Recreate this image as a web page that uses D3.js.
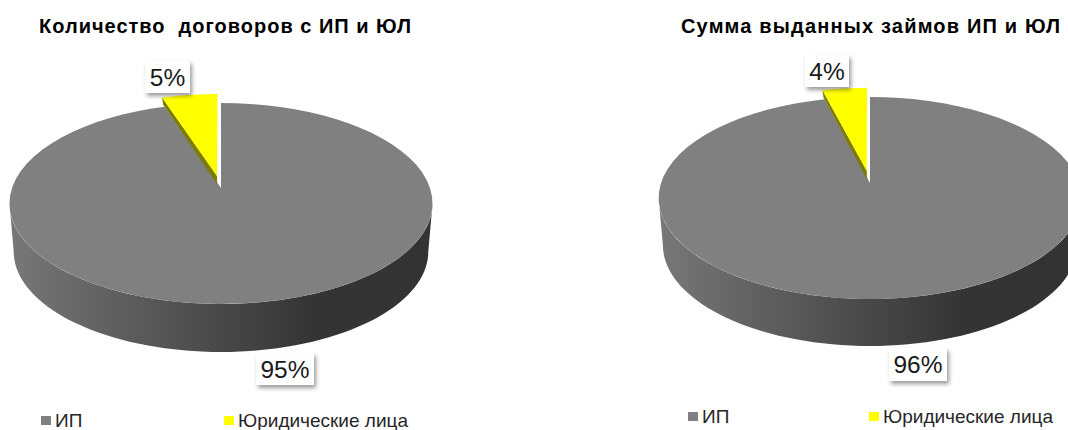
<!DOCTYPE html>
<html lang="ru">
<head>
<meta charset="utf-8">
<title>Договоры и займы ИП и ЮЛ</title>
<script src="https://cdn.jsdelivr.net/npm/d3@7/dist/d3.min.js"></script>
<style>
  html, body { margin: 0; padding: 0; background: #fff; }
  svg { display: block; font-family: "Liberation Sans", Arial, sans-serif; }
</style>
</head>
<body>
<svg id="chart" width="1068" height="430"></svg>
<script>
// Chart data
const categories = ["ИП", "Юридические лица"];
const contractShares = [95, 5];
const loanShares = [96, 4];
const chartTitles = ["Количество  договоров с ИП и ЮЛ", "Сумма выданных займов ИП и ЮЛ"];
const sliceColors = ["#808080", "#ffff00"];

// Layout of the two pies: apex of the top face, vertical reach and wall depth
const panels = [
  { values: contractShares, title: chartTitles[0], titleX: 39, titleLen: 372,
    cx: 221, apexY: 188, up: 85, down: 116, depth: 48,
    boxes: [{ x: 256, y: 353, w: 58, h: 32 }, { x: 145, y: 61, w: 45, h: 32 }],
    legendY: 416, legendX: [41, 224] },
  { values: loanShares, title: chartTitles[1], titleX: 681, titleLen: 379,
    cx: 870, apexY: 183, up: 86, down: 116, depth: 47,
    boxes: [{ x: 889, y: 348, w: 58, h: 33 }, { x: 805, y: 55, w: 44, h: 32 }],
    legendY: 412, legendX: [688, 869] }
];

const RADIUS = 209;
const EXPLODE = 0.125;
const svg = d3.select("#chart");
const defs = svg.append("defs");

// Side wall shading runs from mid grey on the left to charcoal on the right
const wallGrad = defs.append("linearGradient").attr("id", "wall");
[[0, "#787878"], [0.22, "#626262"], [0.5, "#484848"], [0.72, "#343434"], [1, "#333333"]]
  .forEach(([o, c]) => wallGrad.append("stop").attr("offset", o).attr("stop-color", c));

defs.append("filter").attr("id", "boxShadow")
  .attr("x", "-20%").attr("y", "-20%").attr("width", "150%").attr("height", "160%")
  .append("feDropShadow")
  .attr("dx", 2).attr("dy", 3).attr("stdDeviation", 2)
  .attr("flood-color", "#000").attr("flood-opacity", 0.4);

const pieLayout = d3.pie().sort(null).startAngle(0).endAngle(2 * Math.PI);
const linePath = d3.line();

panels.forEach(p => {
  const g = svg.append("g");

  // Perspective projection of the unit disc onto the page
  const k = (p.down - p.up) / (p.down + p.up);
  const h = p.up * (1 + k);
  const project = (u, v, scale = 1, dy = 0) => {
    const w = 1 / (1 + k * v);
    return [p.cx + RADIUS * scale * u * w, p.apexY - h * v * w + dy];
  };
  const arcPoints = (a0, a1, ox = 0, oy = 0, scale = 1, dy = 0) =>
    d3.range(0, 73).map(i => {
      const a = a0 + (a1 - a0) * i / 72;
      return project(Math.sin(a) + ox, Math.cos(a) + oy, scale, dy);
    });

  const slices = pieLayout(p.values);
  const [main, minor] = slices;

  // Wall: the near half of the top rim joined to the near half of the lower rim
  const nearStart = Math.PI * 0.5 + Math.asin(k);
  const nearEnd = Math.PI * 1.5 - Math.asin(k);
  const upperRim = arcPoints(nearStart, nearEnd);
  const lowerRim = arcPoints(nearEnd, nearStart, 0, 0, 0.98, p.depth);
  g.append("path")
    .attr("d", linePath(upperRim.concat(lowerRim)) + "Z")
    .attr("fill", "url(#wall)");

  // Large slice on the top face
  const apex = project(0, 0);
  g.append("path")
    .datum(main)
    .attr("d", d => linePath([apex, ...arcPoints(d.startAngle, d.endAngle)]) + "Z")
    .attr("fill", sliceColors[0]);

  // Pulled-out small slice: visible side edge first, then its top face
  const mid = (minor.startAngle + minor.endAngle) / 2;
  const ox = Math.sin(mid) * EXPLODE;
  const oy = Math.cos(mid) * EXPLODE;
  const facePts = [
    project(ox, oy),
    ...arcPoints(minor.startAngle, minor.endAngle, ox, oy)
  ];
  const edgeFirst = facePts[1];
  const shifted = [facePts[0], edgeFirst, [edgeFirst[0] + 1, edgeFirst[1] + 7], [facePts[0][0], facePts[0][1] + 8]];
  g.append("path").attr("d", linePath(shifted) + "Z").attr("fill", "#7c7c00");
  g.append("path").attr("d", linePath(facePts) + "Z").attr("fill", sliceColors[1]);

  // Value labels in white boxes
  slices.forEach((s, i) => {
    const b = p.boxes[i];
    g.append("rect")
      .attr("x", b.x).attr("y", b.y).attr("width", b.w).attr("height", b.h)
      .attr("fill", "#fff").attr("filter", "url(#boxShadow)");
    g.append("text")
      .attr("x", b.x + b.w / 2).attr("y", b.y + b.h / 2 + 8.5)
      .attr("text-anchor", "middle")
      .attr("font-size", 24.5).attr("fill", "#1a1a1a")
      .text(s.value + "%");
  });

  // Title
  g.append("text")
    .attr("x", p.titleX).attr("y", 33)
    .attr("font-size", 20).attr("font-weight", "bold").attr("fill", "#000")
    .attr("xml:space", "preserve").style("white-space", "pre")
    .attr("textLength", p.titleLen)
    .text(p.title);

  // Legend
  categories.forEach((c, i) => {
    const x = p.legendX[i];
    g.append("rect")
      .attr("x", x).attr("y", p.legendY).attr("width", 10).attr("height", 9)
      .attr("fill", sliceColors[i]);
    g.append("text")
      .attr("x", x + 14).attr("y", p.legendY + 11)
      .attr("font-size", 19).attr("fill", "#262626")
      .text(c);
  });
});
</script>
</body>
</html>
